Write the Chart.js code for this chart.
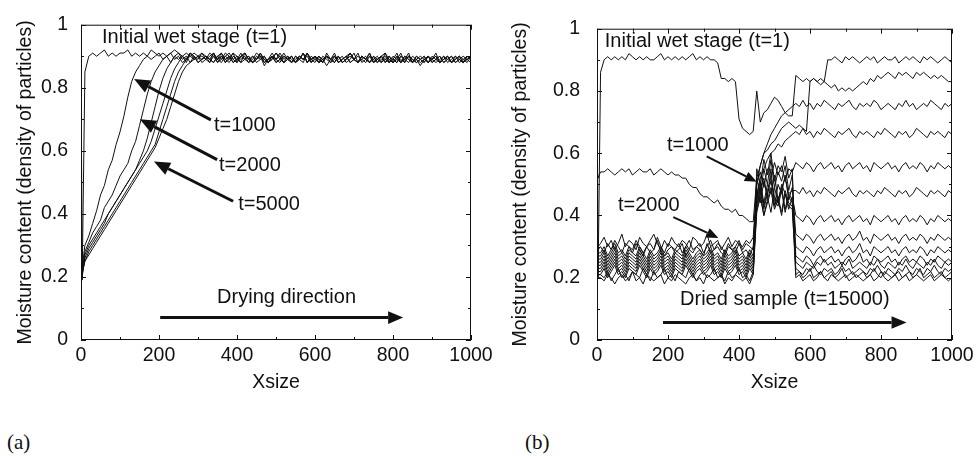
<!DOCTYPE html>
<html>
<head>
<meta charset="utf-8">
<script src="https://cdn.jsdelivr.net/npm/chart.js@4.4.1/dist/chart.umd.min.js"></script>
<style>
  body { margin: 0; background: #fff; width: 979px; height: 456px; position: relative; overflow: hidden; }
  canvas { position: absolute; top: 0; }
  #chartA { left: 0; }
  #chartB { left: 500px; }
  .tag { position: absolute; top: 430px; font: 21px "Liberation Serif", "Times New Roman", serif; color: #111; }
</style>
</head>
<body>
<canvas id="chartA" width="500" height="400"></canvas>
<canvas id="chartB" width="479" height="400"></canvas>
<div class="tag" style="left:7px">(a)</div>
<div class="tag" style="left:525px">(b)</div>
<script>
// sample positions along Xsize (shared by every curve)
const xs = [0,3,10,20,30,40,50,60,70,80,90,100,110,120,130,140,150,160,170,180,190,200,
  210,220,230,240,250,260,270,280,290,300,310,320,330,340,350,360,370,380,390,400,
  410,420,430,440,450,460,470,480,490,500,510,520,530,540,550,560,570,580,590,600,
  610,620,630,640,650,660,670,680,690,700,710,720,730,740,750,760,770,780,790,800,
  810,820,830,840,850,860,870,880,890,900,910,920,930,940,950,960,970,980,990,1000];

const xTicks = [0,200,400,600,800,1000];
const xMinor = [100,300,500,700,900];
const yTicks = [0,0.2,0.4,0.6,0.8,1];
const yMinor = [0.1,0.3,0.5,0.7,0.9];

// ---- panel (a): moisture in hundredths ----
const a0 = [90,19,85, 90,91,90,91,92,90,91,90,91,91, 92,90,91,90,91,90,92,91,90,91, 90,91,92,91,90,91,90,91,90,
  90,89,91,90,88,89,90,91,89,90, 89,90,88,89,91,90,89,88,90,89, 91,89,90,88,89,90,89,91,88,90,
  89,88,90,89,90,88,89,90,91,89, 88,90,89,91,88,89,90,89,88,90, 89,88,90,89,88,90,89,88,90,89,
  90,88,89,90,88,89,90,88,89,90];
const a1 = [27,23, 30,33,37,41,46,49,54,57,62,66,71,77,82,85,87,89,90,
  89,90,91,89,90,88,90,91,89,90, 88,90,89,91,90,89,88,90,89,91, 90,88,89,90,91,89,88,90,89,90,
  88,89,91,90,88,89,90,88,90,89, 91,89,88,90,89,87,89,90,88,89, 90,88,89,91,88,89,90,88,89,90,
  88,90,89,88,90,89,91,88,89,90, 89,88,90,89,88,90,89,88,90,89, 88,90,89];
const a2 = [26,22, 28,31,34,36,38,42,44,46,49,52,54,56,60,63,68,73,78,82,85,87,89,90,
  91,89,90,88,89,91,90,88,89,90, 89,91,88,90,89,90,88,89,91,89, 90,88,89,90,87,89,90,88,89,91,
  89,88,90,89,91,88,89,90,88,89, 90,89,88,90,88,89,91,89,88,90, 89,88,90,89,88,91,89,88,90,88,
  89,90,88,89,87,89,90,88,89,90, 88,89,90,88,89,88,90,89];
const a3 = [26,21, 27,30,32,34,36,38,40,42,44,46,48,50,52,54,57,60,64,69,74,79,83,86,88,90,
  89,90,88,91,89,90,88,89,90,91, 89,88,90,89,91,88,90,89,88,90, 89,91,88,89,90,88,89,90,89,88,
  90,89,88,91,89,90,88,89,90,88, 89,90,88,89,91,89,88,90,89,88, 90,88,89,90,88,89,91,88,90,89,
  88,90,89,88,90,89,88,89,90,88, 89,90,88,89,90,89];
const a4 = [25,20, 26,29,31,33,35,37,40,42,44,46,48,50,52,54,56,58,60,63,67,71,75,79,83,86,88,90,
  89,91,90,88,89,90,89,88,90,91, 89,88,90,89,88,91,89,90,88,89, 90,88,89,91,89,88,90,89,88,90,
  89,90,88,89,90,88,91,89,88,90, 88,89,90,89,88,90,89,91,88,89, 90,88,89,88,90,89,88,90,89,88,
  89,90,88,89,91,88,89,90,88,89, 90,88,89,90];
const a5 = [25,22, 25,28,30,32,34,36,38,40,42,44,46,48,50,52,54,56,58,60,62,66,70,74,78,82,85,87,89,90,
  89,90,91,89,88,90,89,91,88,90, 89,88,90,91,89,88,89,90,88,89, 91,89,88,90,89,90,88,89,91,88,
  90,89,88,90,89,88,90,89,90,88, 89,91,88,89,90,88,89,90,88,89, 90,88,89,91,88,90,89,88,89,90,
  88,89,90,88,89,90,88,89,90,89, 88,90];
const a6 = [24,21, 25,27,29,31,33,35,37,39,41,43,45,47,49,51,53,55,57,59,61,64,67,70,74,78,82,85,87,88,89,90,
  89,90,88,91,89,90,88,89,91,90, 88,89,90,88,89,91,89,88,90,89, 90,88,89,90,88,89,91,88,89,90,
  89,88,90,89,91,88,89,90,88,89, 90,89,88,90,89,88,90,91,88,89, 88,90,89,88,90,89,88,89,90,88,
  89,90,88,89,90,88,89,90,89,88];
const seriesA = [a0, a1, a2, a3, a4, a5, a6];

// ---- panel (b): moisture in hundredths ----
const b0 = [90,20,86,90,
  91,90,91,90,91,90,92,91,90,91, 90,91,90,90,91,92,90,91,90,91, 90,91,90,91,92,90,91,90,91,90,
  90,89,84,84,83,84,83,71,68,67, 66,67,80,70,73,74,76,78,77,75, 73,72,72,85,84,83,84,83,84,83, 84,83,
  90,
  90,91,90,89,91,90,91,90,89,90, 91,90,91,89,90,91,90,90,91,89, 90,91,90,91,90,89,91,90,91,90, 89,90,91,90,89];
const b1 = [55,52,54,
  54,55,54,53,54,55,54,55,53,54, 55,54,54,55,53,54,55,54,53,54, 53,
  53,52,52,50,49,49,47,46,46,45, 44,45,43,42,42,41,42,40,40,39, 38,38,
  52,56,60,61,63,64,66,68,69,70, 69,
  68,69,68,67,
  83,84,83,82,83,82,81,82,80,81, 80,81,80,81,82,83,82,84,83,85, 84,85,86,85,84,86,85,86,85,84,
  86,85,86,85,84,85,84,85,84,83, 83];
const b2 = [22,30,
  31,33,30,32,29,31,34,30,32,31, 29,33,31,30,32,34,31,29,32,30, 33,31,30,32,31,29,33,32,30,31,
  34,30,31,32,29,31,33,30,32,31, 30,32,31,33,
  50,56,60,63,66,68,70,72,73,74,75,
  76,75,77,75,76,74,76,75,77,76, 75,74,76,75,76,77,75,74,76,75, 76,75,77,76,74,75,76,75,74,76,
  75,77,75,76,74,75,76,75,77,76, 75,74,76,75,76];
const b3 = [21,29,
  30,28,31,29,32,30,28,31,30,29, 32,30,28,30,31,29,33,30,28,31, 30,29,31,28,30,32,29,30,31,28,
  30,32,29,31,30,28,31,29,30,32, 29,31,30,29,
  47,52,55,58,60,61,63,62,64,65,66,
  67,66,68,66,67,65,67,66,68,67, 66,65,67,66,67,68,66,65,67,66, 67,66,65,67,66,68,67,66,65,67,
  66,67,65,66,68,67,66,65,67,66, 67,66,65,67,66];
const b4 = [20,28,
  28,30,27,29,31,28,29,27,30,28, 31,29,27,30,28,29,32,28,27,29, 30,28,29,31,27,29,28,30,29,27,
  31,28,29,30,28,27,30,29,28,31, 28,29,27,30,
  50,54,49,55,52,57,53,56,51,55,54,
  57,56,55,57,56,54,56,57,55,56, 57,55,56,54,56,57,55,56,57,55, 56,54,57,56,55,56,57,55,56,54,
  56,57,55,56,55,57,56,54,56,55, 57,56,55,56,55];
const b5 = [21,27,
  27,29,26,28,30,27,28,26,29,28, 27,30,28,26,29,27,28,30,27,28, 26,29,28,27,30,28,26,28,29,27,
  28,30,27,28,26,29,27,28,30,27, 28,26,29,27,
  46,51,44,50,47,53,45,49,52,47,48,
  48,47,49,47,48,46,48,47,49,48, 47,46,48,47,48,49,47,46,48,47, 48,47,46,48,47,49,48,47,46,48,
  47,48,46,47,49,48,47,46,48,47, 48,47,46,48,47];
const b6 = [20,26,
  26,28,25,27,29,26,27,25,28,27, 26,29,27,25,28,26,27,29,26,27, 25,28,27,26,29,27,25,27,28,26,
  27,29,26,27,25,28,26,27,29,26, 27,25,28,26,
  43,48,52,46,41,49,44,50,47,42,46,
  40,39,38,40,39,37,39,40,38,39, 40,38,39,37,39,40,38,39,40,38, 39,37,40,39,38,39,40,38,39,37,
  39,40,38,39,38,40,39,37,39,38, 40,39,38,39,38];
const b7 = [19,25,
  25,27,24,26,28,25,26,24,27,26, 25,28,26,24,27,25,26,28,25,26, 24,27,26,25,28,26,24,26,27,25,
  26,28,25,26,24,27,25,26,28,25, 26,24,27,25,
  48,44,51,46,55,43,50,47,53,45,49,
  34,33,32,34,33,31,33,34,32,33, 34,32,33,31,33,34,32,33,35,32, 33,31,34,33,32,33,34,32,33,31,
  33,34,32,33,32,34,33,31,33,32, 34,33,32,33,32];
const b8 = [20,24,
  24,26,23,25,27,24,25,23,26,25, 24,27,25,23,26,24,25,27,24,25, 23,26,25,24,27,25,23,25,26,24,
  25,27,24,25,23,26,24,25,27,24, 25,23,26,24,
  42,47,40,45,49,43,46,41,48,44,43,
  30,29,28,30,29,27,29,30,28,29, 30,28,29,27,29,30,28,29,31,28, 29,27,30,29,28,29,30,28,29,27,
  29,30,28,29,28,30,29,27,29,28, 30,29,28,29,28];
const b9 = [19,23,
  23,25,22,24,26,23,24,22,25,24, 23,26,24,22,25,23,24,26,23,24, 22,25,24,23,26,24,22,24,25,23,
  24,26,23,24,22,25,23,24,26,23, 24,22,25,23,
  52,47,55,50,58,49,54,51,56,48,53,
  27,26,25,27,26,24,26,27,25,26, 27,25,26,24,26,27,25,26,28,25, 26,24,27,26,25,26,27,25,26,24,
  26,27,25,26,25,27,26,24,26,25, 27,26,25,26,25];
const b10 = [20,22,
  22,24,21,23,25,22,23,21,24,23, 22,25,23,21,24,22,23,25,22,23, 21,24,23,22,25,23,21,23,24,22,
  23,25,22,23,21,24,22,23,25,22, 23,21,24,22,
  45,50,43,48,52,46,44,49,42,47,45,
  25,24,23,25,24,23,25,24,26,24, 25,23,24,25,24,26,23,24,25,24, 23,25,24,26,24,23,25,24,23,25,
  24,26,24,23,25,24,23,25,24,26, 24,23,25,24,25];
const b11 = [19,21,
  21,23,20,22,24,21,22,20,23,22, 21,24,22,20,23,21,22,24,21,22, 20,23,22,21,24,22,20,22,23,21,
  22,24,21,22,20,23,21,22,24,21, 22,20,23,21,
  41,46,40,44,48,42,45,40,47,43,42,
  23,22,21,23,22,24,22,21,23,22, 23,21,22,24,22,23,21,22,23,22, 21,23,22,24,22,21,23,22,21,23,
  22,24,22,21,23,22,21,23,22,24, 22,21,23,22,23];
const b12 = [20,21,
  21,20,22,19,21,23,20,21,19,22, 21,20,23,21,19,22,20,21,23,20, 21,19,22,21,20,23,21,19,21,22,
  20,21,23,20,21,19,22,20,21,23, 20,21,19,22,
  55,50,58,53,60,51,56,54,59,52,55,
  21,22,20,21,23,20,21,22,20,21, 22,20,21,23,20,21,22,20,21,22, 20,21,23,21,20,22,21,20,21,22,
  20,21,22,20,21,23,20,21,22,20, 21,22,20,21,22];
const b13 = [19,20,
  20,19,21,20,18,20,21,19,20,22, 19,20,18,21,20,19,20,21,18,20, 19,21,20,19,18,20,21,19,20,18,
  21,20,19,20,21,18,20,19,21,20, 19,20,18,21,
  44,49,42,47,51,45,43,48,41,46,44,
  20,21,19,20,21,19,20,22,20,19, 21,20,19,20,21,19,20,21,20,19, 20,21,19,20,22,20,19,20,21,19,
  20,21,19,20,21,20,19,20,21,19, 20,21,20,19,20];
const seriesB = [b0, b1, b2, b3, b4, b5, b6, b7, b8, b9, b10, b11, b12, b13];

// text labels and arrows, in data units (x, y) -> (x2, y2 tip)
const notesA = [
  {text: 'Initial wet stage (t=1)', x: 54, y: 0.96},
  {text: 't=1000', x: 341, y: 0.68},
  {text: 't=2000', x: 354, y: 0.554},
  {text: 't=5000', x: 403, y: 0.431},
  {text: 'Drying direction', x: 349, y: 0.136}
];
const arrowsA = [
  [333, 0.698, 136, 0.828, 3, 16],
  [349, 0.572, 151, 0.70, 3, 16],
  [390, 0.44, 187, 0.566, 3, 16],
  [203, 0.071, 826, 0.071, 3, 15]
];
const notesB = [
  {text: 'Initial wet stage (t=1)', x: 22, y: 0.96},
  {text: 't=1000', x: 197, y: 0.625},
  {text: 't=2000', x: 59, y: 0.431},
  {text: 'Dried sample (t=15000)', x: 234, y: 0.129}
];
const arrowsB = [
  [309, 0.59, 450, 0.508, 2, 12],
  [215, 0.395, 342, 0.328, 2, 12],
  [186, 0.056, 872, 0.056, 3, 15]
];

const FONT = '"Liberation Sans", Arial, Helvetica, sans-serif';
const INK = '#111';

const framePlugin = {
  id: 'frame',
  afterDatasetsDraw(chart, args, opts) {
    const {ctx, chartArea: area, scales: {x, y}} = chart;
    ctx.save();
    ctx.strokeStyle = INK;
    ctx.lineWidth = 1;
    ctx.strokeRect(area.left + 0.5, area.top + 0.5, area.right - area.left - 1, area.bottom - area.top - 1);

    // inward ticks on all four sides
    ctx.beginPath();
    const xt = (v, len) => {
      const px = Math.round(x.getPixelForValue(v)) + 0.5;
      ctx.moveTo(px, area.bottom); ctx.lineTo(px, area.bottom - len);
      ctx.moveTo(px, area.top); ctx.lineTo(px, area.top + len);
    };
    const yt = (v, len) => {
      const py = Math.round(y.getPixelForValue(v)) + 0.5;
      ctx.moveTo(area.left, py); ctx.lineTo(area.left + len, py);
      ctx.moveTo(area.right, py); ctx.lineTo(area.right - len, py);
    };
    xTicks.forEach(v => xt(v, 5));
    xMinor.forEach(v => xt(v, 3));
    yTicks.forEach(v => yt(v, 5));
    yMinor.forEach(v => yt(v, 3));
    ctx.stroke();

    ctx.fillStyle = INK;
    ctx.font = '20px ' + FONT;
    ctx.textBaseline = 'middle';
    ctx.textAlign = 'left';
    opts.notes.forEach(n => ctx.fillText(n.text, x.getPixelForValue(n.x), y.getPixelForValue(n.y)));

    opts.arrows.forEach(([x1, y1, x2, y2, w, head]) => {
      const ax = x.getPixelForValue(x1), ay = y.getPixelForValue(y1);
      const bx = x.getPixelForValue(x2), by = y.getPixelForValue(y2);
      const ang = Math.atan2(by - ay, bx - ax);
      const hx = bx - head * Math.cos(ang), hy = by - head * Math.sin(ang);
      ctx.lineWidth = w;
      ctx.beginPath();
      ctx.moveTo(ax, ay); ctx.lineTo(hx, hy);
      ctx.stroke();
      const half = head * 0.42;
      ctx.beginPath();
      ctx.moveTo(bx, by);
      ctx.lineTo(hx + half * Math.sin(ang), hy - half * Math.cos(ang));
      ctx.lineTo(hx - half * Math.sin(ang), hy + half * Math.cos(ang));
      ctx.closePath();
      ctx.fill();
    });
    ctx.restore();
  }
};

function makePanel(id, series, yWidth, yTitlePad, yTickPad, rightPad, notes, arrows) {
  const datasets = series.map(vals => ({
    data: xs.map((x, i) => ({x: x, y: vals[i] / 100})),
    borderColor: INK,
    borderWidth: 1,
    pointRadius: 0,
    tension: 0,
    fill: false
  }));
  return new Chart(document.getElementById(id), {
    type: 'line',
    data: {datasets: datasets},
    options: {
      responsive: false,
      animation: false,
      devicePixelRatio: 1,
      layout: {padding: {left: 0, right: rightPad, top: 15, bottom: 0}},
      plugins: {
        legend: {display: false},
        tooltip: {enabled: false},
        frame: {notes: notes, arrows: arrows}
      },
      scales: {
        x: {
          type: 'linear', min: 0, max: 1000,
          grid: {display: false, drawTicks: false},
          border: {display: false},
          ticks: {stepSize: 200, maxRotation: 0, padding: 4, color: INK, font: {family: FONT, size: 19.5},
            callback: v => String(v)},
          title: {display: true, text: 'Xsize', color: INK, font: {family: FONT, size: 19.5}, padding: {top: 0, bottom: 6}},
          afterFit: s => { s.height = 60; }
        },
        y: {
          min: 0, max: 1,
          grid: {display: false, drawTicks: false},
          border: {display: false},
          ticks: {stepSize: 0.2, padding: yTickPad, color: INK, font: {family: FONT, size: 19.5},
            callback: v => String(Math.round(v * 10) / 10)},
          title: {display: true, text: 'Moisture content (density of particles)', color: INK,
            font: {family: FONT, size: 19.5}, padding: {top: yTitlePad, bottom: 0}},
          afterFit: s => { s.width = yWidth; }
        }
      }
    },
    plugins: [framePlugin]
  });
}

makePanel('chartA', seriesA, 81, 14, 13, 29, notesA, arrowsA);
makePanel('chartB', seriesB, 97, 9, 17, 27, notesB, arrowsB);
</script>
</body>
</html>
